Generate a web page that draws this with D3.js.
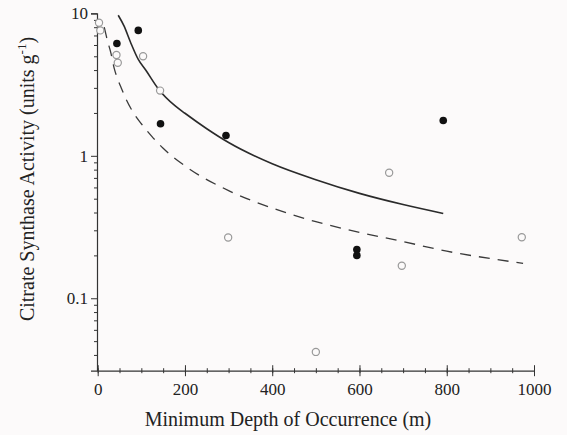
<!DOCTYPE html>
<html>
<head>
<meta charset="utf-8">
<script src="https://cdn.jsdelivr.net/npm/d3@7"></script>
<style>
  html, body { margin: 0; padding: 0; background: #fcfafa; }
  svg text { font-family: "Liberation Serif", "DejaVu Serif", serif; fill: #222; }
</style>
</head>
<body>
<div id="chart"></div>
<script>
// Filled symbols
const filledDepth = [44, 93, 144, 294, 594, 594, 792];
const filledActivity = [6.15, 7.6, 1.68, 1.39, 0.22, 0.20, 1.77];

// Open symbols
const openDepth = [3, 6, 43, 46, 104, 143, 299, 500, 668, 697, 972];
const openActivity = [8.6, 7.6, 5.1, 4.5, 5.0, 2.87, 0.267, 0.042, 0.76, 0.169, 0.268];

// Fitted curves
const solidDepth = [47, 60, 75, 93, 110, 139, 177, 200, 250, 300, 400, 500, 600, 700, 792];
const solidActivity = [9.7, 8.2, 6.3, 4.75, 4.0, 2.95, 2.25, 1.99, 1.55, 1.24, 0.88, 0.68, 0.545, 0.455, 0.394];
const dashedDepth = [15, 22, 30, 38, 46, 55, 65, 80, 100, 125, 150, 200, 300, 400, 500, 600, 700, 800, 900, 975];
const dashedActivity = [8.0, 6.5, 5.3, 4.1, 3.45, 2.95, 2.5, 2.05, 1.68, 1.36, 1.13, 0.85, 0.57, 0.43, 0.345, 0.29, 0.25, 0.214, 0.19, 0.176];

// Axis ticks
const xMajorTicks = [0, 200, 400, 600, 800, 1000];
const xMinorTicks = d3.range(0, 1001, 50);
const yMajorTicks = [0.1, 1, 10];
const yMinorTicks = [0.04, 0.05, 0.06, 0.07, 0.08, 0.09, 0.2, 0.3, 0.4, 0.5, 0.6, 0.7, 0.8, 0.9, 2, 3, 4, 5, 6, 7, 8, 9];

const width = 567, height = 435;

const svg = d3.select('#chart')
    .append('svg')
    .attr('width', width)
    .attr('height', height);

const x = d3.scaleLinear().domain([0, 1000]).range([97.7, 534]);
const y = d3.scaleLog().domain([0.031, 10]).range([370.7, 13.4]);

// x axis: ticks cross the line
const xMinor = svg.append('g')
    .attr('transform', `translate(0,${y(0.031)})`)
    .call(d3.axisBottom(x).tickValues(xMinorTicks).tickSize(0).tickFormat(''));
xMinor.select('.domain').remove();
xMinor.selectAll('.tick line').attr('y1', -2.5).attr('y2', 2.5).attr('stroke', '#333');

const xMajor = svg.append('g')
    .attr('transform', `translate(0,${y(0.031)})`)
    .call(d3.axisBottom(x).tickValues(xMajorTicks).tickSize(0).tickPadding(12)
        .tickFormat(d3.format('d')));
xMajor.select('.domain').attr('stroke', '#333').attr('stroke-width', 1.2);
xMajor.selectAll('.tick line').attr('y1', -5.5).attr('y2', 5.5).attr('stroke', '#333');
xMajor.selectAll('.tick text').attr('font-size', 17).attr('dy', '0.71em');

// y axis
const yMinor = svg.append('g')
    .attr('transform', `translate(${x(0) - 0.7},0)`)
    .call(d3.axisLeft(y).tickValues(yMinorTicks).tickSize(3).tickFormat(''));
yMinor.select('.domain').remove();
yMinor.selectAll('.tick line').attr('stroke', '#333');

const yMajor = svg.append('g')
    .attr('transform', `translate(${x(0) - 0.7},0)`)
    .call(d3.axisLeft(y).tickValues(yMajorTicks).tickSize(6).tickPadding(3)
        .tickFormat(d => d3.format('~g')(d)));
yMajor.select('.domain').attr('stroke', '#333').attr('stroke-width', 1.2);
yMajor.selectAll('.tick line').attr('stroke', '#333');
yMajor.selectAll('.tick text').attr('font-size', 17);

// Axis titles
svg.append('text')
    .attr('x', 288)
    .attr('y', 426)
    .attr('text-anchor', 'middle')
    .attr('font-size', 20)
    .text('Minimum Depth of Occurrence (m)');

const yTitle = svg.append('text')
    .attr('transform', 'translate(34,179) rotate(-90)')
    .attr('text-anchor', 'middle')
    .attr('font-size', 20);
yTitle.append('tspan').text('Citrate Synthase Activity (units g');
yTitle.append('tspan').attr('font-size', 13).attr('dy', -8).text('-1');
yTitle.append('tspan').attr('dy', 8).text(')');

// Curves
const line = d3.line()
    .x(d => x(d[0]))
    .y(d => y(d[1]))
    .curve(d3.curveMonotoneX);

svg.append('path')
    .datum(solidDepth.map((d, i) => [d, solidActivity[i]]))
    .attr('fill', 'none')
    .attr('stroke', '#2a2a2a')
    .attr('stroke-width', 1.6)
    .attr('d', line);

svg.append('path')
    .datum(dashedDepth.map((d, i) => [d, dashedActivity[i]]))
    .attr('fill', 'none')
    .attr('stroke', '#3a3a3a')
    .attr('stroke-width', 1.3)
    .attr('stroke-dasharray', '11,8')
    .attr('d', line);

// Points
svg.selectAll('.open-point')
    .data(openDepth.map((d, i) => [d, openActivity[i]]))
    .enter()
    .append('circle')
    .attr('class', 'open-point')
    .attr('cx', d => x(d[0]))
    .attr('cy', d => y(d[1]))
    .attr('r', 3.6)
    .attr('fill', '#fcfafa')
    .attr('stroke', '#999')
    .attr('stroke-width', 1.2);

svg.selectAll('.filled-point')
    .data(filledDepth.map((d, i) => [d, filledActivity[i]]))
    .enter()
    .append('circle')
    .attr('class', 'filled-point')
    .attr('cx', d => x(d[0]))
    .attr('cy', d => y(d[1]))
    .attr('r', 3.8)
    .attr('fill', '#111');
</script>
</body>
</html>
